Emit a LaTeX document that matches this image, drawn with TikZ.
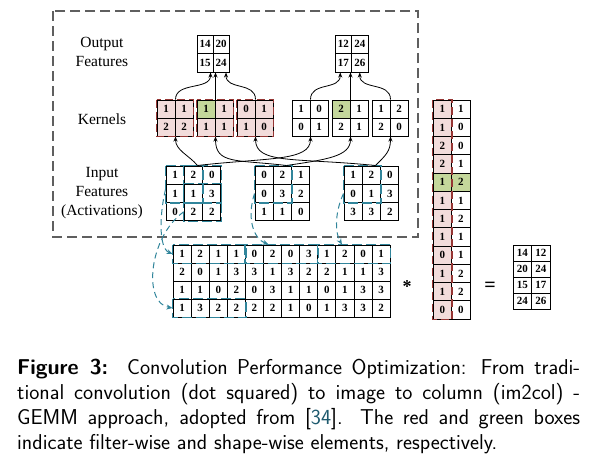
\documentclass[tikz,border=0pt]{standalone}
\usepackage{fontspec}
\newfontfamily\diag{Liberation Serif}
\usetikzlibrary{arrows.meta}
\definecolor{pk}{RGB}{242,220,219}
\definecolor{gn}{RGB}{196,215,155}
\definecolor{dred}{RGB}{150,54,52}
\definecolor{tealc}{RGB}{49,133,155}
\definecolor{framec}{RGB}{95,95,95}
\definecolor{citec}{RGB}{30,90,110}
\tikzset{
  cellnode/.style={draw, line width=1pt, inner sep=0pt, font=\diag\bfseries\fontsize{11}{12}\selectfont},
  lbl/.style={font=\diag\fontsize{15.5}{19}\selectfont, align=center},
  conn/.style={line width=0.8pt, -{Stealth[length=5pt,width=4pt]}},
  tconn/.style={tealc, line width=1pt, dash pattern=on 6pt off 4pt, -{Stealth[length=6pt,width=5pt]}},
  win/.style={tealc, line width=1.3pt, dash pattern=on 10pt off 4pt},
  rbox/.style={dred, line width=1.3pt, dash pattern=on 8pt off 4pt},
  capline/.style={font=\sffamily\fontsize{21.5}{25}\selectfont, anchor=base west, inner sep=0pt},
}
\newcommand\mygrid[7]{%
  \foreach \v/\s [count=\i from 0] in {#7} {%
    \pgfmathtruncatemacro\rr{floor(\i/#6)}%
    \pgfmathtruncatemacro\cc{mod(\i,#6)}%
    \node[cellnode,fill=\s,minimum width=#4pt,minimum height=#5pt] (#1-\rr-\cc) at ({#2+(\cc+0.5)*#4},{#3+(\rr+0.5)*#5}) {\v};%
  }%
}
\begin{document}
\begin{tikzpicture}[x=1pt,y=-1pt]
\useasboundingbox (0,0) rectangle (597,466);
% frame
\draw[framec, line width=1.2pt, dash pattern=on 10pt off 5pt] (53,11) rectangle (418,237);
% labels
\node[lbl] (lout) at (102,52) {Output\\Features};
\node[lbl] (lker) at (102,119) {Kernels};
\node[lbl] (lin) at (102,193) {Input\\Features\\(Activations)};
% output features
\mygrid{o1}{197}{35}{16}{18.5}{2}{14/white,20/white,15/white,24/white}
\mygrid{o2}{335}{35}{16.5}{18.5}{2}{12/white,24/white,17/white,26/white}
% kernels
\mygrid{k1}{157}{100}{18}{18}{2}{1/pk,1/pk,2/pk,2/pk}
\mygrid{k2}{197}{100}{18}{18}{2}{1/gn,1/pk,1/pk,1/pk}
\mygrid{k3}{237}{100}{18}{18}{2}{0/pk,1/pk,1/pk,0/pk}
\mygrid{k4}{292}{100}{18}{18}{2}{1/white,0/white,0/white,1/white}
\mygrid{k5}{332}{100}{18}{18}{2}{2/gn,1/white,2/white,1/white}
\mygrid{k6}{372}{100}{18}{18}{2}{1/white,2/white,2/white,0/white}
\draw[rbox] (k1-0-0.north west) rectangle (k1-1-1.south east);
\draw[rbox] (k2-0-0.north west) rectangle (k2-1-1.south east);
\draw[rbox] (k3-0-0.north west) rectangle (k3-1-1.south east);
% inputs
\mygrid{g1}{166}{166}{18.3}{18.3}{3}{1/white,2/white,0/white,1/white,1/white,3/white,0/white,2/white,2/white}
\mygrid{g2}{255}{166}{18.3}{18.3}{3}{0/white,2/white,1/white,0/white,3/white,2/white,1/white,1/white,0/white}
\mygrid{g3}{344}{166}{18.3}{18.3}{3}{1/white,2/white,0/white,0/white,1/white,3/white,3/white,3/white,2/white}
\draw[win] (g1-0-0.north west) rectangle (g1-1-1.south east);
\draw[win] (g1-0-1.north west) rectangle (g1-1-2.south east);
\draw[win] (g1-1-1.north west) rectangle (g1-2-2.south east);
\draw[win] (g2-0-0.north west) rectangle (g2-1-1.south east);
\draw[win] (g3-0-0.north west) rectangle (g3-1-1.south east);
% im2col matrix
\mygrid{m}{173}{245}{18.1}{18}{12}{1/white,2/white,1/white,1/white,0/white,2/white,0/white,3/white,1/white,2/white,0/white,1/white,
2/white,0/white,1/white,3/white,3/white,1/white,3/white,2/white,2/white,1/white,1/white,3/white,
1/white,1/white,0/white,2/white,0/white,3/white,1/white,1/white,0/white,1/white,3/white,3/white,
1/white,3/white,2/white,2/white,2/white,2/white,1/white,0/white,1/white,3/white,3/white,2/white}
\draw[win] (m-0-0.north west) rectangle (m-0-3.south east);
\draw[win] (m-0-4.north west) rectangle (m-0-7.south east);
\draw[win] (m-0-8.north west) rectangle (m-0-11.south east);
\draw[win] (m-3-0.north west) rectangle (m-3-3.south east);
% kernel column matrix
\mygrid{r}{433}{100}{18.5}{18.25}{2}{1/pk,1/white,1/pk,0/white,2/pk,0/white,2/pk,1/white,1/gn,2/gn,1/pk,1/white,1/pk,2/white,1/pk,1/white,0/pk,1/white,1/pk,2/white,1/pk,2/white,0/pk,0/white}
\draw[rbox] (r-0-0.north west) rectangle (r-11-0.south east);
% result
\mygrid{z}{513}{245}{18.5}{16}{2}{14/white,12/white,20/white,24/white,15/white,17/white,24/white,26/white}
\node (star) at (407,287) {\diag\bfseries\fontsize{18}{18}\selectfont *};
\node (eq) at (490,287) {\diag\bfseries\fontsize{20}{20}\selectfont =};
% kernels -> outputs
\draw[conn] (k1-0-0.north east) .. controls +(0,-18) and +(0,18) .. ([xshift=-3pt]o1-1-0.south east);
\draw[conn] (k2-0-0.north east) -- (k2-0-0.north east |- o1-1-1.south);
\draw[conn] (k3-0-0.north east) .. controls +(0,-18) and +(0,18) .. ([xshift=5pt]o1-1-1.south);
\draw[conn] (k4-0-0.north east) .. controls +(0,-18) and +(0,18) .. ([xshift=-3pt]o2-1-0.south);
\draw[conn] (k5-0-0.north east) -- (k5-0-0.north east |- o2-1-1.south);
\draw[conn] (k6-0-0.north east) .. controls +(0,-18) and +(0,18) .. (o2-1-1.south);
% inputs -> kernels
\draw[conn] ([xshift=4pt]g1-0-1.north) .. controls +(-8,-10) and +(0,14) .. (k1-1-0.south east);
\draw[conn] ([xshift=4pt]g1-0-1.north) .. controls +(70,-8) and +(0,25) .. (k4-1-0.south east);
\draw[conn] ([xshift=4pt]g2-0-1.north) .. controls +(-50,-6) and +(0,28) .. (k2-1-0.south east);
\draw[conn] ([xshift=4pt]g2-0-1.north) .. controls +(40,-6) and +(0,20) .. (k5-1-0.south east);
\draw[conn] ([xshift=4pt]g3-0-1.north) .. controls +(-80,-8) and +(0,28) .. (k3-1-0.south east);
\draw[conn] ([xshift=4pt]g3-0-1.north) .. controls +(10,-10) and +(0,15) .. (k6-1-0.south east);
% windows -> im2col
\draw[tconn] ([yshift=4pt]g1-1-0.west) .. controls +(-6,25) and +(-14,-6) .. (m-0-0.west);
\draw[tconn] (g1-2-1.west) .. controls +(-35,25) and +(-30,-5) .. (m-3-0.west);
\draw[tconn] (g2-1-0.west) .. controls +(-8,25) and +(-15,-6) .. ([xshift=-4pt]m-0-5.north);
\draw[tconn] (g3-1-0.west) .. controls +(-10,22) and +(-6,-10) .. ([xshift=-3pt]m-0-9.north);
% caption
\node[capline] (c1) at (17,374) {\makebox[563pt][s]{\textbf{Figure 3:}\ \ Convolution Performance Optimization: From tradi-}};
\node[capline] (c2) at (17,399) {\makebox[563pt][s]{tional convolution (dot squared) to image to column (im2col) -}};
\node[capline] (c3) at (17,424) {\makebox[563pt][s]{GEMM approach, adopted from [\textcolor{citec}{34}]. The red and green boxes}};
\node[capline] (c4) at (17,449) {indicate filter-wise and shape-wise elements, respectively.};
\end{tikzpicture}
\end{document}
